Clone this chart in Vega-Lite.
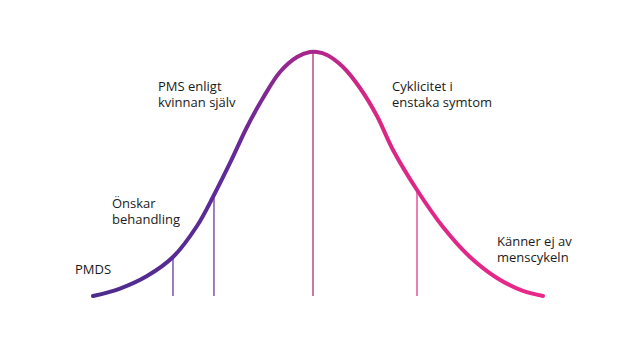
{
  "$schema": "https://vega.github.io/schema/vega-lite/v6.json",
  "width": 458,
  "height": 244,
  "autosize": {"type": "none"},
  "padding": {"left": 90, "top": 52, "right": 91, "bottom": 63},
  "background": "white",
  "config": {"view": {"stroke": null}},
  "datasets": {
    "curve": [
      {"x": 0.66, "y": 0},
      {"x": 6.55, "y": 3.07},
      {"x": 12.45, "y": 8.2},
      {"x": 18.12, "y": 15.98},
      {"x": 23.36, "y": 28.69},
      {"x": 27.07, "y": 41.39},
      {"x": 30.57, "y": 54.51},
      {"x": 34.28, "y": 69.26},
      {"x": 37.77, "y": 81.15},
      {"x": 41.48, "y": 91.8},
      {"x": 45.2, "y": 97.95},
      {"x": 48.03, "y": 100},
      {"x": 49.56, "y": 100},
      {"x": 51.75, "y": 98.77},
      {"x": 55.24, "y": 93.85},
      {"x": 58.95, "y": 85.25},
      {"x": 62.66, "y": 73.77},
      {"x": 66.16, "y": 59.84},
      {"x": 71.4, "y": 43.44},
      {"x": 77.07, "y": 28.28},
      {"x": 82.97, "y": 15.98},
      {"x": 88.86, "y": 7.38},
      {"x": 94.54, "y": 2.05},
      {"x": 98.91, "y": 0}
    ],
    "markers": [
      {"marker": "PMDS", "x": 18.12, "y": 15.98},
      {"marker": "Önskar behandling", "x": 27.07, "y": 41.39},
      {"marker": "Mitt", "x": 48.69, "y": 100},
      {"marker": "Cyklicitet i enstaka symtom", "x": 71.4, "y": 43.44}
    ],
    "labels": [
      {"label": "PMDS", "x": -3.28, "y": 9.02},
      {"label": "Önskar\nbehandling", "x": 4.8, "y": 36.07},
      {"label": "PMS enligt\nkvinnan själv", "x": 14.85, "y": 84.02},
      {"label": "Cyklicitet i\nenstaka symtom", "x": 65.94, "y": 84.02},
      {"label": "Känner ej av\nmenscykeln", "x": 88.86, "y": 20.49}
    ]
  },
  "layer": [
    {
      "mark": {"type": "rule", "color": "#111111", "strokeWidth": 1.5},
      "encoding": {
        "x": {"datum": 0, "type": "quantitative", "scale": {"domain": [0, 100], "nice": false, "zero": false}, "axis": null},
        "x2": {"datum": 99.8},
        "y": {"datum": 0, "type": "quantitative", "scale": {"domain": [0, 100], "nice": false, "zero": false}, "axis": null}
      }
    },
    {
      "data": {"name": "markers"},
      "mark": {"type": "rule", "strokeWidth": 1.2},
      "encoding": {
        "x": {"field": "x", "type": "quantitative", "scale": {"domain": [0, 100], "nice": false, "zero": false}, "axis": null},
        "y": {"field": "y", "type": "quantitative", "scale": {"domain": [0, 100], "nice": false, "zero": false}, "axis": null},
        "y2": {"datum": 0},
        "color": {
          "field": "marker",
          "type": "nominal",
          "scale": {
            "domain": ["PMDS", "Önskar behandling", "Mitt", "Cyklicitet i enstaka symtom"],
            "range": ["#5a2a93", "#62299a", "#a81f66", "#e02583"]
          },
          "legend": null
        }
      }
    },
    {
      "data": {"name": "curve"},
      "mark": {
        "type": "line",
        "interpolate": "catmull-rom",
        "strokeWidth": 4,
        "strokeCap": "round",
        "color": {
          "gradient": "linear",
          "x1": 0, "y1": 0, "x2": 1, "y2": 0,
          "stops": [
            {"offset": 0, "color": "#4c2c8c"},
            {"offset": 0.3, "color": "#5f2a98"},
            {"offset": 0.5, "color": "#b0268a"},
            {"offset": 0.62, "color": "#d92785"},
            {"offset": 1, "color": "#e8288a"}
          ]
        }
      },
      "encoding": {
        "x": {"field": "x", "type": "quantitative", "scale": {"domain": [0, 100], "nice": false, "zero": false}, "axis": null},
        "y": {"field": "y", "type": "quantitative", "scale": {"domain": [0, 100], "nice": false, "zero": false}, "axis": null}
      }
    },
    {
      "data": {"name": "labels"},
      "mark": {
        "type": "text",
        "align": "left",
        "baseline": "alphabetic",
        "font": "Open Sans",
        "fontSize": 13,
        "lineHeight": 16,
        "lineBreak": "\n",
        "color": "#1a1a1a"
      },
      "encoding": {
        "x": {"field": "x", "type": "quantitative", "scale": {"domain": [0, 100], "nice": false, "zero": false}, "axis": null},
        "y": {"field": "y", "type": "quantitative", "scale": {"domain": [0, 100], "nice": false, "zero": false}, "axis": null},
        "text": {"field": "label"}
      }
    }
  ]
}
